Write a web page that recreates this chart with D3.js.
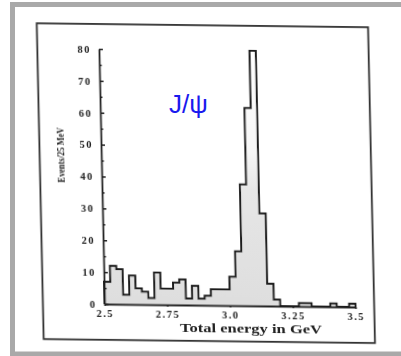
<!DOCTYPE html>
<html><head><meta charset="utf-8">
<script src="https://cdn.jsdelivr.net/npm/d3@7"></script>
<style>
html,body{margin:0;padding:0;background:#fff;}
svg{display:block;}
</style></head>
<body>
<svg id="chart" width="401" height="356"></svg>
<script>
// Lower edge of each 25 MeV energy bin (GeV)
const binLow = [2.500, 2.525, 2.550, 2.575, 2.600, 2.625, 2.650, 2.675, 2.700, 2.725,
                2.750, 2.775, 2.800, 2.825, 2.850, 2.875, 2.900, 2.925, 2.950, 2.975,
                3.000, 3.025, 3.050, 3.075, 3.100, 3.125, 3.150, 3.175, 3.200, 3.225,
                3.250, 3.275, 3.300, 3.325, 3.350, 3.375, 3.400, 3.425, 3.450, 3.475];
// Events counted in each bin
const counts = [7, 12, 11, 3, 9, 5, 4, 2, 10, 5,
                5, 7, 8, 2, 6, 2, 3, 5, 5, 5,
                9, 17, 38, 62, 80, 29, 7, 2, 0, 0,
                0, 1, 1, 0, 0, 0, 1, 0, 0, 1];
const binWidth = 0.025;
const xTicks = [2.5, 2.75, 3.0, 3.25, 3.5];
const xTickLabels = ["2.5", "2.75", "3.0", "3.25", "3.5"];
const yTicks = [0, 10, 20, 30, 40, 50, 60, 70, 80];
const yMinorTicks = [5, 15, 25, 35, 45, 55, 65, 75];
const xTitle = "Total energy in GeV";
const yTitle = "Events/25 MeV";
const peakLabel = "J/\u03C8";

const svg = d3.select("#chart");
const defs = svg.append("defs");
defs.append("filter").attr("id", "soft")
  .attr("x", "-5%").attr("y", "-5%").attr("width", "110%").attr("height", "110%")
  .append("feGaussianBlur").attr("stdDeviation", 0.45);
const grad = defs.append("linearGradient").attr("id", "fillGrad")
  .attr("gradientUnits", "userSpaceOnUse")
  .attr("x1", 0).attr("x2", 0).attr("y1", 0).attr("y2", -256);
grad.append("stop").attr("offset", "0%").attr("stop-color", "#dedede");
grad.append("stop").attr("offset", "45%").attr("stop-color", "#e6e6e6");
grad.append("stop").attr("offset", "60%").attr("stop-color", "#f7f7f7");
grad.append("stop").attr("offset", "100%").attr("stop-color", "#ffffff");

// grey page border
svg.append("rect")
  .attr("x", 12.5).attr("y", 4.5).attr("width", 400).attr("height", 349.5)
  .attr("fill", "#fff").attr("stroke", "#a9a9a9").attr("stroke-width", 5);

const x = d3.scaleLinear().domain([2.5, 3.5]).range([0, 251]);
const y = d3.scaleLinear().domain([0, 80]).range([0, -255]);

// printed figure plate, slightly skewed on the page
const plate = svg.append("g")
  .attr("transform", "matrix(1,0.012,0.022,1,104.5,304)")
  .attr("filter", "url(#soft)");

plate.append("rect")
  .attr("x", -61.6).attr("y", -280).attr("width", 331.3).attr("height", 315.8)
  .attr("fill", "none").attr("stroke", "#333").attr("stroke-width", 1.8);

const bins = binLow.map((e, i) => ({ e: e, n: counts[i] }));
const areaPts = bins.concat([{ e: binLow[binLow.length - 1] + binWidth, n: counts[counts.length - 1] }]);
const linePts = [{ e: binLow[0], n: 0 }].concat(areaPts, [{ e: binLow[binLow.length - 1] + binWidth, n: 0 }]);

plate.append("path")
  .datum(areaPts)
  .attr("fill", "url(#fillGrad)")
  .attr("d", d3.area().curve(d3.curveStepAfter)
    .x(d => x(d.e)).y0(y(0)).y1(d => y(d.n)));

// x axis
const xAxis = plate.append("g")
  .call(d3.axisBottom(x).tickValues(xTicks)
    .tickFormat((d, i) => xTickLabels[i])
    .tickSize(2).tickSizeOuter(0).tickPadding(4));

// y axis with major and minor ticks pointing inward
const yAxis = plate.append("g")
  .call(d3.axisLeft(y).tickValues(yTicks).tickSize(-4).tickSizeOuter(0).tickPadding(8));
const yMinor = plate.append("g")
  .call(d3.axisLeft(y).tickValues(yMinorTicks).tickFormat("").tickSize(-2.5).tickSizeOuter(0));
yMinor.select(".domain").remove();

[xAxis, yAxis, yMinor].forEach(g => {
  g.selectAll(".domain").attr("stroke", "#222").attr("stroke-width", 1.8);
  g.selectAll(".tick line").attr("stroke", "#222").attr("stroke-width", 1.5);
  g.selectAll(".tick text")
    .attr("fill", "#222")
    .style("font-family", "'Liberation Serif', 'DejaVu Serif', serif")
    .style("font-weight", "bold")
    .style("font-size", "10.5px")
    .style("letter-spacing", "1.5px");
});

plate.append("path")
  .datum(linePts)
  .attr("fill", "none")
  .attr("stroke", "#1e1e1e")
  .attr("stroke-width", 2)
  .attr("stroke-linejoin", "miter")
  .attr("d", d3.line().curve(d3.curveStepAfter).x(d => x(d.e)).y(d => y(d.n)));

plate.append("text")
  .attr("x", 146).attr("y", 26.5)
  .attr("text-anchor", "middle")
  .attr("textLength", 142).attr("lengthAdjust", "spacingAndGlyphs")
  .attr("fill", "#222")
  .style("font-family", "'Liberation Serif', 'DejaVu Serif', serif")
  .style("font-weight", "bold").style("font-size", "11.5px")
  .text(xTitle);

plate.append("text")
  .attr("transform", "translate(-41,-148.5) rotate(-90)")
  .attr("text-anchor", "middle").attr("dy", "0.35em")
  .attr("textLength", 55).attr("lengthAdjust", "spacingAndGlyphs")
  .attr("fill", "#222")
  .style("font-family", "'Liberation Serif', 'DejaVu Serif', serif")
  .style("font-weight", "bold")
  .style("font-size", "10.5px")
  .text(yTitle);

svg.append("text")
  .attr("x", 169).attr("y", 113)
  .attr("fill", "#1a1aee")
  .style("font-family", "'Liberation Sans', Arial, sans-serif")
  .style("font-size", "26px")
  .text(peakLabel);
</script>
</body></html>
